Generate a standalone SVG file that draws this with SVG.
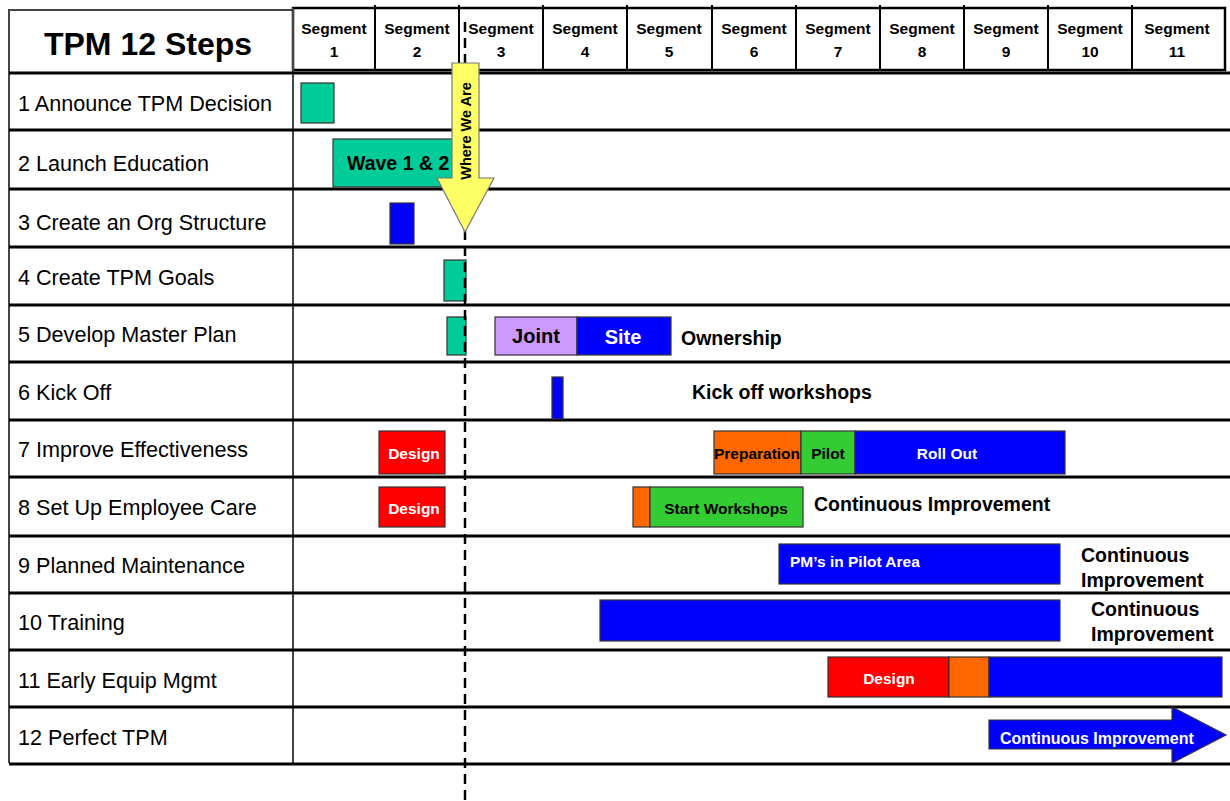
<svg xmlns="http://www.w3.org/2000/svg" width="1230" height="801" viewBox="0 0 1230 801">
<style>
.lbl{font-family:"Liberation Sans",Arial,sans-serif;font-size:21.6px;fill:#000}
.seg{font-family:"Liberation Sans",Arial,sans-serif;font-size:15.5px;font-weight:bold;fill:#000;text-anchor:middle}
.b{font-family:"Liberation Sans",Arial,sans-serif;font-weight:bold}
.big{font-size:19.5px}
.sm{font-size:15.5px}
.w{fill:#fff}
.k{fill:#000}
.mid{text-anchor:middle}
.bar{stroke:#333;stroke-width:1.2}
.teal{fill:#00CC99}.blue{fill:#0000FF}.red{fill:#FF0000}.orange{fill:#FF6600}.green{fill:#33CC33}.lav{fill:#CC99FF}
.row{stroke:#000;stroke-width:3}
.vl{stroke:#444;stroke-width:2}
</style>
<rect width="1230" height="801" fill="#fff"/>
<g id="grid">
<rect x="9" y="10" width="284" height="63" fill="none" stroke="#444" stroke-width="2"/>
<rect x="293" y="8" width="932" height="62" fill="none" stroke="#000" stroke-width="2.5"/>
<g stroke="#000" stroke-width="2">
<line x1="375" y1="5" x2="375" y2="70"/><line x1="459" y1="5" x2="459" y2="70"/><line x1="543" y1="5" x2="543" y2="70"/><line x1="627" y1="5" x2="627" y2="70"/><line x1="712" y1="5" x2="712" y2="70"/><line x1="796" y1="5" x2="796" y2="70"/><line x1="880" y1="5" x2="880" y2="70"/><line x1="964" y1="5" x2="964" y2="70"/><line x1="1048" y1="5" x2="1048" y2="70"/><line x1="1132" y1="5" x2="1132" y2="70"/>
</g>
<line class="vl" x1="9" y1="73" x2="9" y2="763"/>
<line class="vl" x1="293" y1="8" x2="293" y2="763"/>
<g class="row">
<line x1="9" y1="73" x2="1230" y2="73"/><line x1="9" y1="130" x2="1230" y2="130"/><line x1="9" y1="189" x2="1230" y2="189"/><line x1="9" y1="247" x2="1230" y2="247"/><line x1="9" y1="305" x2="1230" y2="305"/><line x1="9" y1="362" x2="1230" y2="362"/><line x1="9" y1="420" x2="1230" y2="420"/><line x1="9" y1="477" x2="1230" y2="477"/><line x1="9" y1="536" x2="1230" y2="536"/><line x1="9" y1="593" x2="1230" y2="593"/><line x1="9" y1="650" x2="1230" y2="650"/><line x1="9" y1="707" x2="1230" y2="707"/><line x1="9" y1="764" x2="1230" y2="764"/>
</g>
<text class="b" x="148" y="55" font-size="32" text-anchor="middle">TPM 12 Steps</text>
<g class="seg">
<text x="334" y="34">Segment</text><text x="334" y="57">1</text>
<text x="417" y="34">Segment</text><text x="417" y="57">2</text>
<text x="501" y="34">Segment</text><text x="501" y="57">3</text>
<text x="585" y="34">Segment</text><text x="585" y="57">4</text>
<text x="669" y="34">Segment</text><text x="669" y="57">5</text>
<text x="754" y="34">Segment</text><text x="754" y="57">6</text>
<text x="838" y="34">Segment</text><text x="838" y="57">7</text>
<text x="922" y="34">Segment</text><text x="922" y="57">8</text>
<text x="1006" y="34">Segment</text><text x="1006" y="57">9</text>
<text x="1090" y="34">Segment</text><text x="1090" y="57">10</text>
<text x="1177" y="34">Segment</text><text x="1177" y="57">11</text>
</g>
</g>
<g id="step1"><text class="lbl" x="18" y="111">1 Announce TPM Decision</text><rect class="bar teal" x="301" y="83" width="33" height="40"/></g>
<g id="step2"><text class="lbl" x="18" y="171">2 Launch Education</text><rect class="bar teal" x="333" y="139" width="137" height="48"/><text class="b big k" x="347" y="170" font-size="18.5">Wave 1 &amp; 2</text></g>
<g id="step3"><text class="lbl" x="18" y="230">3 Create an Org Structure</text><rect class="bar blue" x="390" y="203" width="24" height="41"/></g>
<g id="step4"><text class="lbl" x="18" y="285">4 Create TPM Goals</text><rect class="bar teal" x="444" y="260" width="22" height="41"/></g>
<g id="step5"><text class="lbl" x="18" y="342">5 Develop Master Plan</text><rect class="bar teal" x="447" y="317" width="19" height="38"/>
<rect class="bar lav" x="495" y="317" width="82" height="38"/><rect class="bar blue" x="577" y="317" width="94" height="38"/>
<text class="b k mid" x="536" y="343" font-size="20">Joint</text><text class="b w mid" x="623" y="344" font-size="20">Site</text>
<text class="b big k" x="681" y="345">Ownership</text></g>
<g id="step6"><text class="lbl" x="18" y="400">6 Kick Off</text><rect class="bar blue" x="552" y="377" width="11" height="42"/><text class="b big k" x="692" y="399">Kick off workshops</text></g>
<g id="step7"><text class="lbl" x="18" y="457">7 Improve Effectiveness</text>
<rect class="bar red" x="379" y="431" width="66" height="43"/><text class="b sm w mid" x="414" y="459">Design</text>
<rect class="bar orange" x="714" y="431" width="87" height="43"/><rect class="bar green" x="801" y="431" width="54" height="43"/><rect class="bar blue" x="855" y="431" width="210" height="43"/>
<text class="b sm k mid" x="757" y="459">Preparation</text><text class="b sm k mid" x="828" y="459">Pilot</text><text class="b sm w mid" x="947" y="459">Roll Out</text></g>
<g id="step8"><text class="lbl" x="18" y="515">8 Set Up Employee Care</text>
<rect class="bar red" x="379" y="487" width="66" height="40"/><text class="b sm w mid" x="414" y="514">Design</text>
<rect class="bar orange" x="633" y="487" width="17" height="40"/><rect class="bar green" x="650" y="487" width="153" height="40"/>
<text class="b sm k mid" x="726" y="514">Start Workshops</text>
<text class="b big k" x="814" y="511">Continuous Improvement</text></g>
<g id="step9"><text class="lbl" x="18" y="573">9 Planned Maintenance</text>
<rect class="bar blue" x="779" y="544" width="281" height="40"/><text class="b sm w" x="790" y="567">PM’s in Pilot  Area</text>
<text class="b big k" x="1081" y="562">Continuous</text><text class="b big k" x="1081" y="587">Improvement</text></g>
<g id="step10"><text class="lbl" x="18" y="630">10 Training</text>
<rect class="bar blue" x="600" y="600" width="460" height="41"/>
<text class="b big k" x="1091" y="616">Continuous</text><text class="b big k" x="1091" y="641">Improvement</text></g>
<g id="step11"><text class="lbl" x="18" y="688">11 Early Equip Mgmt</text>
<rect class="bar red" x="828" y="657" width="121" height="40"/><rect class="bar orange" x="949" y="657" width="40" height="40"/><rect class="bar blue" x="989" y="657" width="233" height="40"/>
<text class="b sm w mid" x="889" y="684">Design</text></g>
<g id="step12"><text class="lbl" x="18" y="745">12 Perfect TPM</text>
<polygon class="bar blue" points="989,720 1172,720 1172,707 1226,735 1172,763 1172,749 989,749"/>
<text class="b w" x="1000" y="744" font-size="16">Continuous Improvement</text></g>
<g id="connectors">
<line x1="465" y1="22" x2="465" y2="801" stroke="#000" stroke-width="2.5" stroke-dasharray="10 6"/>
<g id="where-we-are">
<polygon points="452,63 479,63 479,178 494,178 465,232 437,178 452,178" fill="#FFFF66" stroke="#777" stroke-width="1.2"/>
<text class="b k mid" font-size="14.5" transform="translate(466,131) rotate(-90)" dominant-baseline="central">Where We Are</text>
</g>
</g>
</svg>
